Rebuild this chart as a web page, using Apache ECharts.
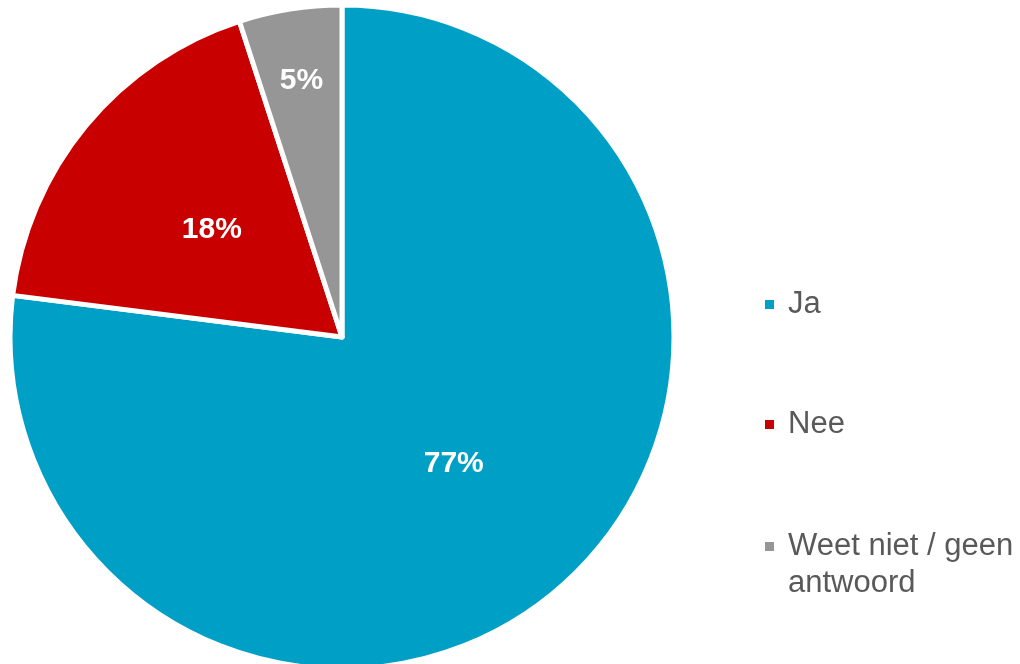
<!DOCTYPE html>
<html>
<head>
<meta charset="utf-8">
<script src="https://cdn.jsdelivr.net/npm/echarts@6/dist/echarts.min.js"></script>
<style>html,body{margin:0;padding:0;background:#fff}#c{width:1020px;height:664px}</style>
</head>
<body>
<div id="c"></div>
<script>
const categories = ['Ja', 'Nee', 'Weet niet / geen\nantwoord'];
const values = [77, 18, 5];
const colors = ['#00A0C6', '#C80000', '#969696'];

const chart = echarts.init(document.getElementById('c'), null, {renderer: 'canvas'});
const legendTops = [304, 424, 546];
const legendFont = {fontFamily: 'Liberation Sans, Arial, sans-serif', fontSize: 31, color: '#595959', lineHeight: 37, padding: [0, 0, 0, 8]};
const legends = categories.map((c, i) => ({
  orient: 'vertical',
  left: 763,
  top: legendTops[i] - 18 - (i === 2 ? 37 : 0),
  padding: 0,
  icon: 'rect',
  itemWidth: 11,
  itemHeight: 11,
  itemGap: 0,
  selectedMode: false,
  data: [c],
  formatter: i === 2 ? (n => ' \n' + n) : (n => n),
  textStyle: legendFont
}));

// labels placed like the reference: large slices at mid-radius, small slice near the rim
const mainData = categories.map((c, i) => ({
  name: c, value: values[i], itemStyle: {color: colors[i]},
  label: {show: i !== 2}
}));
const rimData = categories.map((c, i) => ({
  name: c, value: values[i],
  label: {show: i === 2}
}));
const labelStyle = {
  position: 'inside',
  formatter: p => p.value + '%',
  color: '#ffffff',
  fontFamily: 'Liberation Sans, Arial, sans-serif',
  fontWeight: 'bold',
  fontSize: 30
};

chart.setOption({
  animation: false,
  color: colors,
  legend: legends,
  series: [{
    type: 'pie',
    center: [342, 337],
    radius: [0, 332],
    startAngle: 90,
    clockwise: true,
    data: mainData,
    itemStyle: {borderColor: '#ffffff', borderWidth: 5},
    label: labelStyle,
    labelLine: {show: false},
    emphasis: {disabled: true}
  }, {
    type: 'pie',
    silent: true,
    center: [342, 337],
    radius: [182, 330],
    startAngle: 90,
    clockwise: true,
    data: rimData,
    itemStyle: {color: 'rgba(0,0,0,0)', borderWidth: 0},
    label: labelStyle,
    labelLine: {show: false},
    emphasis: {disabled: true}
  }]
});
</script>
</body>
</html>
